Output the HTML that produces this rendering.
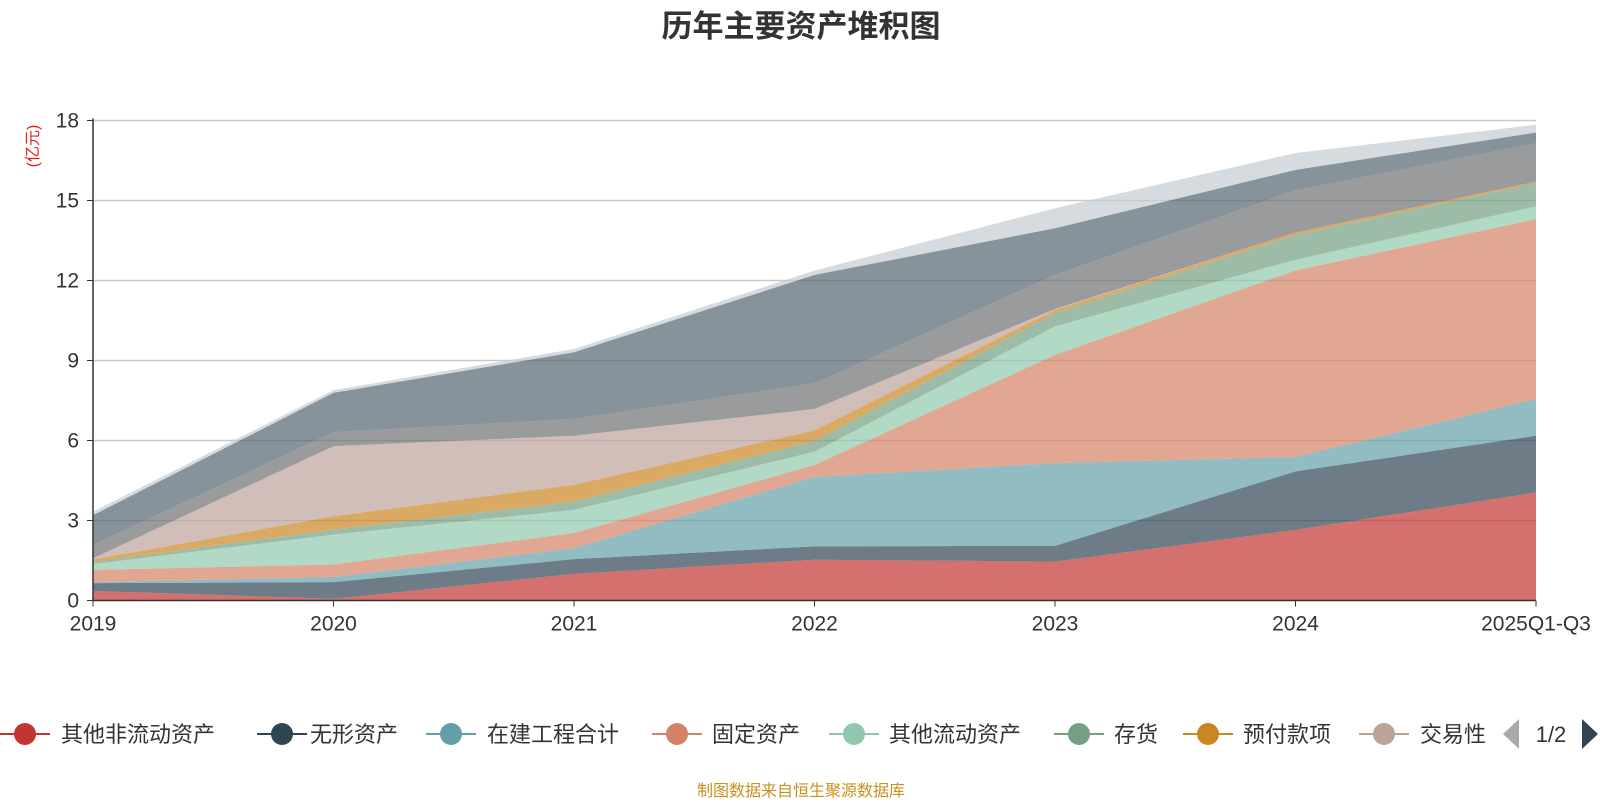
<!DOCTYPE html>
<html><head><meta charset="utf-8"><style>
body{margin:0;background:#fff;width:1600px;height:800px;overflow:hidden;font-family:"Liberation Sans","Noto Sans CJK SC",sans-serif}
</style></head><body>
<svg id="chart" width="1600" height="800" style="font-family:'Liberation Sans','Noto Sans CJK SC',sans-serif">
<text x="801" y="37" text-anchor="middle" font-size="31" font-weight="bold" fill="#333">历年主要资产堆积图</text>
<text transform="translate(38,146) rotate(-90)" text-anchor="middle" font-size="16" fill="#e02020">(亿元)</text>
<g id="grid"></g><g id="areas"></g><g id="axes"></g><g id="legend"></g>
<text x="801" y="796" text-anchor="middle" font-size="16" fill="#c8901f">制图数据来自恒生聚源数据库</text>
</svg>
<script>
const categories=["2019","2020","2021","2022","2023","2024","2025Q1-Q3"];
const yTicks=[0,3,6,9,12,15,18];
const seriesNames=["其他非流动资产","无形资产","在建工程合计","固定资产","其他流动资产","存货","预付款项","交易性金融资产","应收账款","货币资金","其他资产"];
const s1=[0.36,0.06,1.0,1.53,1.46,2.65,4.05];
const s2=[0.29,0.63,0.55,0.5,0.59,2.19,2.13];
const s3=[0.04,0.19,0.41,2.6,3.1,0.54,1.38];
const s4=[0.46,0.47,0.57,0.45,4.06,7.0,6.74];
const s5=[0.22,1.12,0.87,0.5,1.07,0.4,0.48];
const s6=[0.08,0.19,0.31,0.4,0.5,0.93,0.87];
const s7=[0.09,0.5,0.63,0.4,0.12,0.09,0.06];
const s8=[0.04,2.63,1.84,0.8,0.03,0.0,0.0];
const s9=[0.5,0.52,0.63,0.96,1.28,1.58,1.44];
const s10=[1.12,1.48,2.5,4.07,1.75,0.77,0.4];
const s11=[0.13,0.1,0.12,0.16,0.75,0.63,0.29];
const series=[s1,s2,s3,s4,s5,s6,s7,s8,s9,s10,s11];
const colors=["#c23531","#2f4554","#61a0a8","#d48265","#91c7ae","#749f83","#ca8622","#bda29a","#6e7074","#546570","#c4ccd3"];
const NS="http://www.w3.org/2000/svg";
const X0=93,X1=1536,Y0=600.5,Y1=120.5,YMAX=18;
const xs=i=>X0+(X1-X0)*i/(categories.length-1);
const ys=v=>Y0-(Y0-Y1)*v/YMAX;
function mk(tag,attrs,parent){const e=document.createElementNS(NS,tag);for(const k in attrs)e.setAttribute(k,attrs[k]);parent.appendChild(e);return e;}
const grid=document.getElementById('grid'),areas=document.getElementById('areas'),axes=document.getElementById('axes'),legend=document.getElementById('legend');
yTicks.forEach(t=>{
  if(t>0){const l=mk('line',{x1:X0,x2:X1,y1:ys(t),y2:ys(t),stroke:'#c8c8c8','stroke-width':1.5},grid);
  
  }
  const tk=mk('line',{x1:X0-6,x2:X0,y1:ys(t),y2:ys(t),stroke:'#333'},axes);
  
  
  const tx=mk('text',{x:X0-14,y:ys(t)+7,'text-anchor':'end','font-size':21,fill:'#333'},axes);tx.textContent=t;
  
  
});
let base=categories.map(()=>0);
series.forEach((s,k)=>{
  const top=base.map((b,i)=>b+s[i]);
  let d='M'+categories.map((c,i)=>xs(i)+','+ys(top[i])).join('L');
  for(let i=categories.length-1;i>=0;i--)d+='L'+xs(i)+','+ys(base[i]);
  d+='Z';
  const p=mk('path',{d:d,fill:colors[k],'fill-opacity':0.7},areas);
  
  
  base=top;
});
const ax=mk('line',{x1:X0,x2:X0,y1:Y1-2,y2:Y0,stroke:'#333','stroke-width':1.5},axes);


const bx=mk('line',{x1:X0,x2:X1,y1:Y0,y2:Y0,stroke:'#333','stroke-width':1.5},axes);


categories.forEach((c,i)=>{
  const tk=mk('line',{x1:xs(i),x2:xs(i),y1:Y0,y2:Y0+6,stroke:'#333'},axes);
  
  
  const tx=mk('text',{x:xs(i),y:Y0+30,'text-anchor':'middle','font-size':21,fill:'#333'},axes);tx.textContent=c;
  
  
});
const legX=[25,282,451,677,854,1079,1208,1384];
const legTX=[61,310,487,712,889,1114,1243,1420];
for(let k=0;k<8;k++){
  const g=mk('g',{},legend);
  
  
  mk('line',{x1:legX[k]-25,x2:legX[k]+25,y1:734,y2:734,stroke:colors[k],'stroke-width':2},g);
  mk('circle',{cx:legX[k],cy:734,r:11,fill:colors[k]},g);
  const t=mk('text',{x:legTX[k],y:742,'font-size':22,fill:'#333'},g);
  t.textContent=k==7?'交易性':seriesNames[k];
}
const pl=mk('polygon',{points:'1519,719 1519,749 1503,734',fill:'#aaa'},legend);


const pg=mk('text',{x:1551,y:742,'text-anchor':'middle','font-size':22,fill:'#333'},legend);pg.textContent='1/2';


const pr=mk('polygon',{points:'1582,719 1582,749 1598,734',fill:'#2f4554'},legend);


</script>
</body></html>
